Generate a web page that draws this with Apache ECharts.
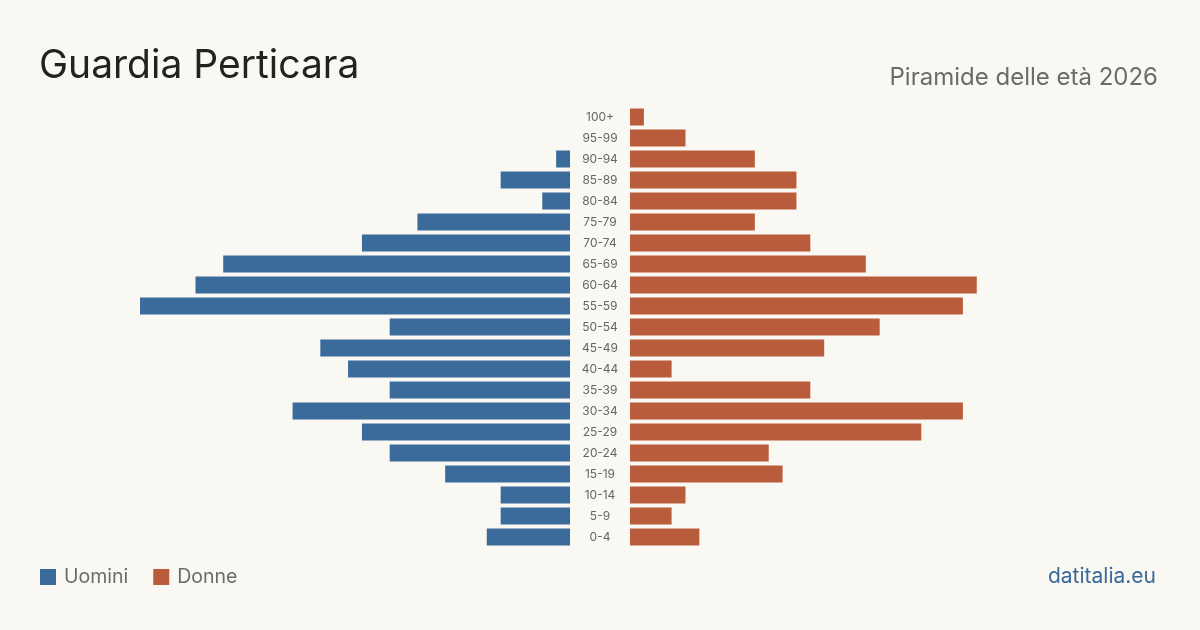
<!DOCTYPE html>
<html>
<head>
<meta charset="utf-8">
<script src="https://cdn.jsdelivr.net/npm/echarts@6/dist/echarts.min.js"></script>
<style>
  html, body { margin: 0; padding: 0; background: #faf8f3; }
  #chart { width: 1200px; height: 630px; }
</style>
</head>
<body>
<div id="chart"></div>
<script>
const ageGroups = ["0-4", "5-9", "10-14", "15-19", "20-24", "25-29", "30-34", "35-39", "40-44", "45-49",
  "50-54", "55-59", "60-64", "65-69", "70-74", "75-79", "80-84", "85-89", "90-94", "95-99", "100+"];
const men = [6, 5, 5, 9, 13, 15, 20, 13, 16, 18, 13, 31, 27, 25, 15, 11, 2, 5, 1, 0, 0];
const women = [5, 3, 4, 11, 10, 21, 24, 13, 3, 14, 18, 24, 25, 17, 13, 9, 12, 12, 9, 4, 1];

const maxVal = Math.max(...men, ...women);
const fontFamily = "Inter, 'Noto Sans', sans-serif";

var myChart = echarts.init(document.getElementById("chart"));
var option = {
  backgroundColor: "#faf8f3",
  textStyle: { fontFamily: fontFamily },
  title: [
    {
      text: "Guardia Perticara",
      left: 39,
      top: 47,
      padding: 0,
      textStyle: { fontSize: 39, fontWeight: "normal", color: "#222", fontFamily: fontFamily },
    },
    {
      text: "Piramide delle età 2026",
      right: 42,
      top: 66,
      padding: 0,
      textStyle: { fontSize: 24, fontWeight: "normal", color: "#6b6b6b", fontFamily: fontFamily },
    },
    {
      text: "datitalia.eu",
      right: 44,
      top: 566,
      padding: 0,
      textStyle: { fontSize: 21, fontWeight: "normal", color: "#3a6a9b", fontFamily: fontFamily },
    },
  ],
  legend: {
    left: 40,
    top: 567,
    padding: 0,
    icon: "rect",
    itemWidth: 16,
    itemHeight: 16,
    itemGap: 25,
    textStyle: { fontSize: 19.5, color: "#6b6b6b", fontFamily: fontFamily, padding: [0, 0, 0, 3] },
    data: ["Uomini", "Donne"],
  },
  grid: [
    { left: 140, width: 430, top: 106.5, height: 441 },
    { left: 630, width: 430, top: 106.5, height: 441 },
  ],
  xAxis: [
    { type: "value", gridIndex: 0, min: 0, max: maxVal, inverse: true, show: false },
    { type: "value", gridIndex: 1, min: 0, max: maxVal, show: false },
  ],
  yAxis: [
    {
      type: "category", gridIndex: 0, data: ageGroups,
      axisLine: { show: false }, axisTick: { show: false }, axisLabel: { show: false },
    },
    {
      type: "category", gridIndex: 1, data: ageGroups,
      axisLine: { show: false }, axisTick: { show: false },
      axisLabel: { align: "center", margin: 30, fontSize: 12, color: "#666", fontFamily: fontFamily },
    },
  ],
  series: [
    {
      name: "Uomini", type: "bar", xAxisIndex: 0, yAxisIndex: 0, data: men,
      barWidth: 17, itemStyle: { color: "#3b6b9b" }, silent: true,
    },
    {
      name: "Donne", type: "bar", xAxisIndex: 1, yAxisIndex: 1, data: women,
      barWidth: 17, itemStyle: { color: "#b95c3c" }, silent: true,
    },
  ],
};
option && myChart.setOption(option);
</script>
</body>
</html>
